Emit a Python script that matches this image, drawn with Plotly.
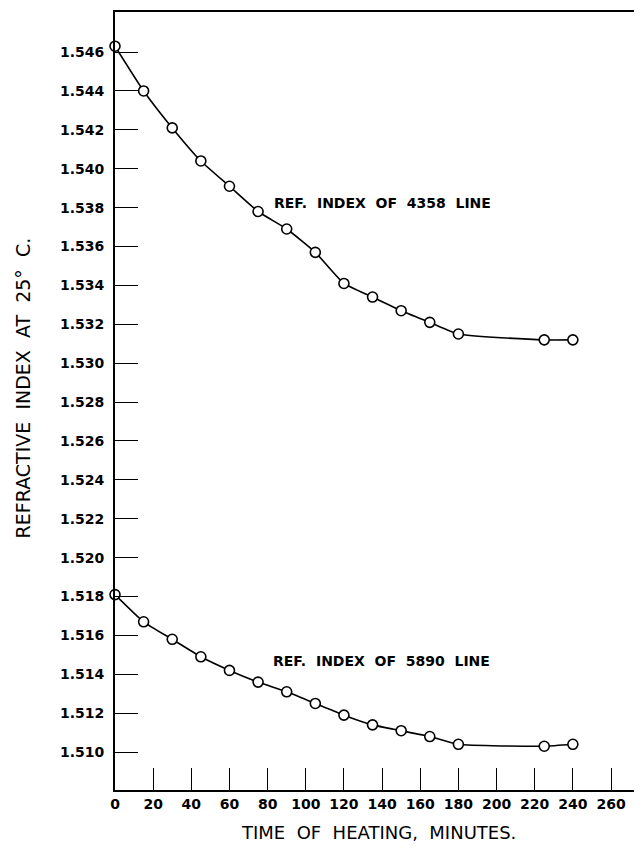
import plotly.graph_objects as go

# Time of heating (minutes)
time_min = [0, 15, 30, 45, 60, 75, 90, 105, 120, 135, 150, 165, 180, 225, 240]

# Refractive index of 4358 line
ri_4358 = [1.5463, 1.5440, 1.5421, 1.5404, 1.5391, 1.5378, 1.5369, 1.5357,
           1.5341, 1.5334, 1.5327, 1.5321, 1.5315, 1.5312, 1.5312]

# Refractive index of 5890 line
ri_5890 = [1.5181, 1.5167, 1.5158, 1.5149, 1.5142, 1.5136, 1.5131, 1.5125,
           1.5119, 1.5114, 1.5111, 1.5108, 1.5104, 1.5103, 1.5104]

x_ticks = list(range(0, 261, 20))
y_ticks = [1.510, 1.512, 1.514, 1.516, 1.518, 1.520, 1.522, 1.524, 1.526,
           1.528, 1.530, 1.532, 1.534, 1.536, 1.538, 1.540, 1.542, 1.544, 1.546]

label_4358 = "REF. INDEX OF 4358 LINE"
label_5890 = "REF. INDEX OF 5890 LINE"
x_title = "TIME OF HEATING, MINUTES."
y_title = "REFRACTIVE INDEX AT 25° C."

FONT = "DejaVu Sans"


def wide(s):
    # widen the word gaps as in the hand-lettered original
    return s.replace(" ", "\u00a0 ")


fig = go.Figure()
for ys in (ri_4358, ri_5890):
    fig.add_trace(go.Scatter(
        x=time_min, y=ys, mode="lines+markers",
        line=dict(color="black", width=1.6, shape="spline", smoothing=0.5),
        marker=dict(symbol="circle", size=10, color="white",
                    line=dict(color="black", width=1.6)),
        showlegend=False, cliponaxis=False,
    ))

fig.add_annotation(x=82.5, y=1.53823, xref="x", yref="y", text=wide(label_4358),
                   showarrow=False, xanchor="left", yanchor="middle",
                   font=dict(family=FONT, size=14, color="black", weight="bold"))
fig.add_annotation(x=82, y=1.51468, xref="x", yref="y", text=wide(label_5890),
                   showarrow=False, xanchor="left", yanchor="middle",
                   font=dict(family=FONT, size=14, color="black", weight="bold"))

fig.add_annotation(x=0.507, y=-0.0705, xref="paper", yref="paper", text=wide(x_title),
                   showarrow=False, xanchor="center", yanchor="bottom",
                   font=dict(family=FONT, size=18, color="black"))
fig.add_annotation(x=-0.178, y=0.517, xref="paper", yref="paper", text=wide(y_title),
                   showarrow=False, xanchor="center", yanchor="middle", textangle=-90,
                   font=dict(family=FONT, size=19, color="black"))

fig.update_layout(
    width=626, height=838,
    margin=dict(l=107, r=0, t=4, b=56),
    paper_bgcolor="white", plot_bgcolor="white",
    font=dict(family=FONT, color="black"),
    xaxis=dict(range=[0, 272.05], tickvals=x_ticks, ticks="inside", ticklen=22,
               tickwidth=1.3, tickcolor="black", showgrid=False, zeroline=False,
               showline=True, linecolor="black", linewidth=2, mirror=True,
               tickfont=dict(family=FONT, size=14, color="black", weight="bold")),
    yaxis=dict(range=[1.50805, 1.54806], tickvals=y_ticks, tickformat=".3f",
               ticks="inside", ticklen=23, tickwidth=1.3, tickcolor="black",
               showgrid=False, zeroline=False, showline=True, linecolor="black",
               linewidth=2, mirror=False, ticklabelstandoff=6,
               tickfont=dict(family=FONT, size=14, color="black", weight="bold")),
)

fig.write_html("out.html")
